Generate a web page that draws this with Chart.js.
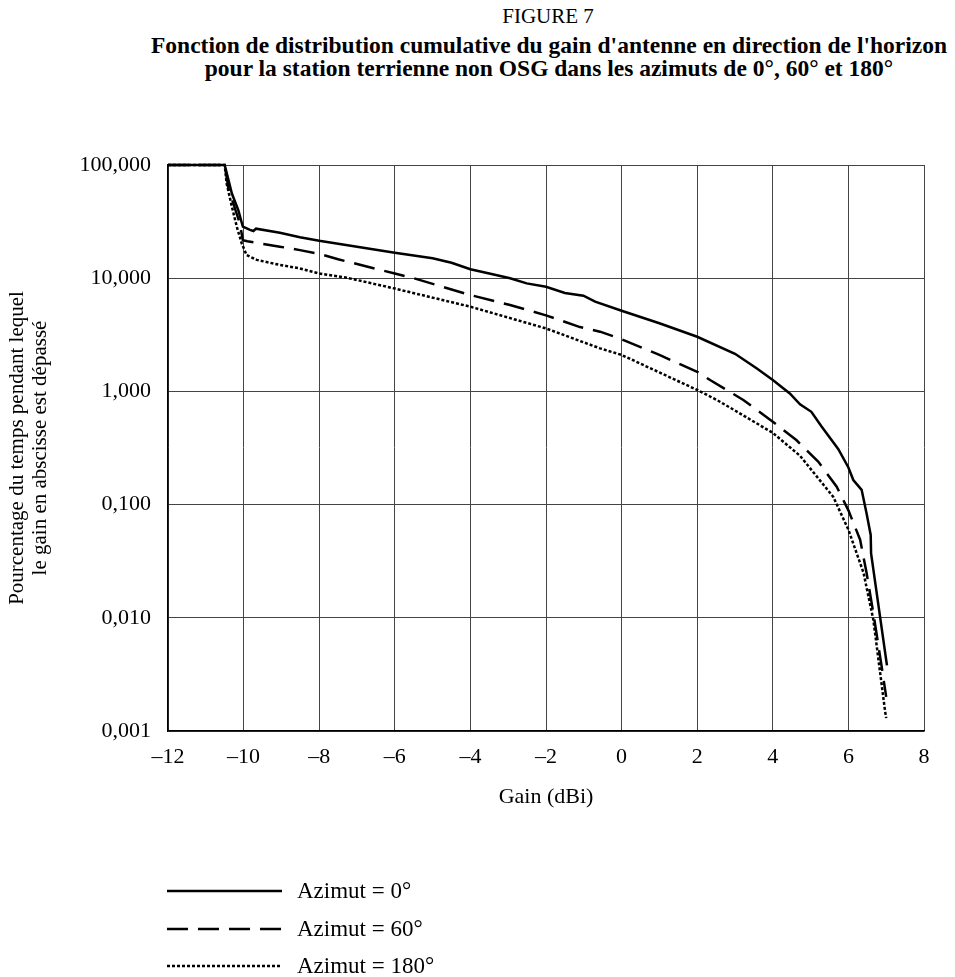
<!DOCTYPE html>
<html>
<head>
<meta charset="utf-8">
<title>Figure 7</title>
<script src="https://cdn.jsdelivr.net/npm/chart.js@4.4.1/dist/chart.umd.min.js"></script>
<style>
  html, body { margin: 0; padding: 0; background: #fff; }
  #page { position: relative; width: 955px; height: 977px; font-family: "Liberation Serif", "DejaVu Serif", serif; color: #000; overflow: hidden; }
  #fig { position: absolute; top: 4px; left: 168px; width: 760px; text-align: center; font-size: 21px; line-height: 24px; }
  #title { position: absolute; top: 34px; left: 60px; width: 978px; text-align: center; font-size: 23.5px; font-weight: bold; line-height: 23px; }
  #chart { position: absolute; left: 0; top: 0; }
  .leg { position: absolute; left: 167px; height: 24px; font-size: 23px; }
  .leg svg { position: absolute; left: 0; top: 0; }
  .leg span { position: absolute; left: 130px; top: 0; line-height: 24px; white-space: nowrap; }
</style>
</head>
<body>
<div id="page">
  <div id="fig">FIGURE 7</div>
  <div id="title">Fonction de distribution cumulative du gain d'antenne en direction de l'horizon<br>pour la station terrienne non OSG dans les azimuts de 0°, 60° et 180°</div>
  <canvas id="chart" width="955" height="977"></canvas>
  <div id="legend"></div>
</div>
<script>
// series labels
const seriesNames = ["Azimut = 0°", "Azimut = 60°", "Azimut = 180°"];

// Azimut = 0° (gain dBi, % of time exceeded)
const az0Gain = [-12, -11.5, -11, -10.5, -10.4, -10.31, -10.14, -10.02, -9.83, -9.74, -9.67, -9.04, -8.51, -8, -7, -6, -5, -4.5, -4, -3.5, -2.95, -2.51, -2, -1.5, -1.01, -0.7, 0, 1, 2, 3, 3.57, 4, 4.45, 4.72, 5.02, 5.29, 5.73, 6.0, 6.13, 6.35, 6.48, 6.59, 6.6, 7.02];
const az0Pct = [100, 100, 100, 100, 73.6, 56, 40, 28.5, 26.7, 26.1, 27.4, 25.2, 23.0, 21.4, 19.0, 16.8, 15.0, 13.7, 12.0, 11.0, 10.0, 9.0, 8.4, 7.4, 7.0, 6.2, 5.16, 4.0, 3.04, 2.15, 1.6, 1.26, 0.96, 0.77, 0.66, 0.49, 0.31, 0.213, 0.165, 0.135, 0.084, 0.054, 0.037, 0.0038];

// Azimut = 60°
const az60Gain = [-12, -11, -10.5, -10.4, -10.1, -10.02, -9.9, -9.04, -8.51, -8, -7.5, -6, -5.5, -4, -2.95, -2, -1.1, -0.57, 0, 1, 2, 2.34, 3.22, 4.0, 4.63, 5.2, 5.69, 6.0, 6.31, 6.48, 6.66, 6.88, 7.0];
const az60Pct = [100, 100, 100, 62, 30.5, 21.7, 21.2, 19.0, 17.7, 16.4, 14.7, 11.0, 10.0, 7.1, 5.8, 4.7, 3.7, 3.37, 2.89, 2.1, 1.49, 1.26, 0.84, 0.54, 0.37, 0.24, 0.144, 0.089, 0.049, 0.025, 0.011, 0.0037, 0.0020];

// Azimut = 180°
const az180Gain = [-12, -11, -10.5, -10.45, -10.31, -10.18, -10.05, -9.92, -9.65, -9.04, -8.51, -8, -7.27, -6, -4, -2, -0.57, 0, 1, 2, 2.52, 2.96, 4.0, 4.72, 5.6, 6.0, 6.4, 6.66, 6.97, 7.0];
const az180Pct = [100, 100, 100, 69, 42.9, 28.5, 20.3, 16.0, 14.5, 13.1, 12.2, 11.0, 10.1, 8.1, 5.6, 3.6, 2.4, 2.10, 1.47, 1.03, 0.84, 0.69, 0.43, 0.27, 0.117, 0.060, 0.025, 0.0096, 0.0015, 0.0013];

// axis ticks
const xTickValues = [-12, -10, -8, -6, -4, -2, 0, 2, 4, 6, 8];
const xTickLabels = ["\u201312", "\u201310", "\u20138", "\u20136", "\u20134", "\u20132", "0", "2", "4", "6", "8"];
const yTickValues = [0.001, 0.01, 0.1, 1, 10, 100];
const yTickLabels = ["0,001", "0,010", "0,100", "1,000", "10,000", "100,000"];

const lineStyles = [
    { width: 2.5, dash: [] },
    { width: 2.5, dash: [21, 10] },
    { width: 2.5, dash: [3, 2] },
];

function toPoints(xs, ys) {
    return xs.map((x, i) => ({ x: x, y: ys[i] }));
}

const seriesData = [
    toPoints(az0Gain, az0Pct),
    toPoints(az60Gain, az60Pct),
    toPoints(az180Gain, az180Pct),
];

const serif = "'Liberation Serif', 'DejaVu Serif', serif";

new Chart(document.getElementById("chart"), {
    type: "line",
    data: {
        datasets: seriesData.map((pts, i) => ({
            label: seriesNames[i],
            data: pts,
            borderColor: "#000",
            borderWidth: lineStyles[i].width,
            borderDash: lineStyles[i].dash,
            pointRadius: 0,
            tension: 0,
            fill: false,
            clip: false,
        })),
    },
    options: {
        responsive: false,
        animation: false,
        layout: { padding: { top: 165, right: 31, left: 0, bottom: 161 } },
        plugins: {
            legend: { display: false },
            tooltip: { enabled: false },
        },
        scales: {
            x: {
                type: "linear",
                min: -12,
                max: 8,
                afterBuildTicks: (scale) => {
                    scale.ticks = xTickValues.map(v => ({ value: v }));
                },
                afterFit: (scale) => { scale.height = 85; },
                ticks: {
                    color: "#000",
                    font: { family: serif, size: 22 },
                    padding: 13,
                    maxRotation: 0,
                    callback: (v) => xTickLabels[xTickValues.indexOf(v)],
                },
                grid: { color: "#444", lineWidth: 1, drawTicks: false },
                border: { color: "#000", width: 1.5 },
                title: {
                    display: true,
                    text: "Gain (dBi)",
                    color: "#000",
                    font: { family: serif, size: 22 },
                    padding: { top: 0, bottom: 6 },
                },
            },
            y: {
                type: "logarithmic",
                min: 0.001,
                max: 100,
                afterBuildTicks: (scale) => {
                    scale.ticks = yTickValues.map(v => ({ value: v }));
                },
                afterFit: (scale) => { scale.width = 168; },
                ticks: {
                    color: "#000",
                    font: { family: serif, size: 22 },
                    padding: 17,
                    callback: (v) => yTickLabels[yTickValues.indexOf(v)],
                },
                grid: { color: "#444", lineWidth: 1, drawTicks: false },
                border: { color: "#000", width: 1.5 },
                title: {
                    display: true,
                    text: ["Pourcentage du temps pendant lequel", "le gain en abscisse est dépassé"],
                    color: "#000",
                    font: { family: serif, size: 21, lineHeight: "23px" },
                    padding: { top: 5.5, bottom: 0 },
                },
            },
        },
    },
});

// legend below the chart
const legendRows = [891, 929, 966];
const legend = document.getElementById("legend");
seriesNames.forEach((name, i) => {
    const row = document.createElement("div");
    row.className = "leg";
    row.style.top = (legendRows[i] - 12) + "px";
    const dash = lineStyles[i].dash.join(",");
    row.innerHTML =
        '<svg width="118" height="24"><line x1="0" y1="12" x2="115" y2="12" stroke="#000" stroke-width="' +
        lineStyles[i].width + '"' + (dash ? ' stroke-dasharray="' + dash + '"' : "") + "/></svg>" +
        "<span>" + name + "</span>";
    legend.appendChild(row);
});
</script>
</body>
</html>
